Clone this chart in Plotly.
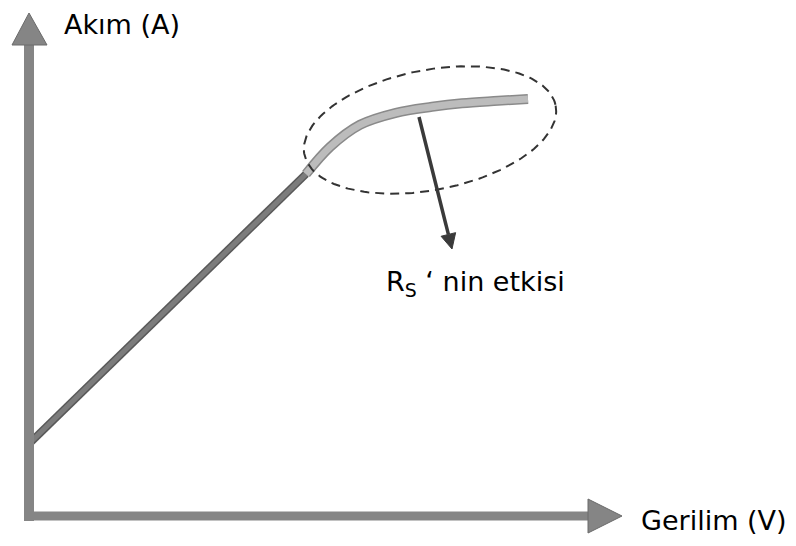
import numpy as np
import plotly.graph_objects as go

# ---- data (conceptual units: Gerilim V, Akım I) ----
lin_v = [0.0, 4.6]
lin_i = [1.22, 5.7]
curve_v = [4.6, 5.0, 5.5, 6.1, 6.7, 7.2, 7.8, 8.3]
curve_i = [5.7, 6.15, 6.52, 6.72, 6.82, 6.88, 6.92, 6.95]
x_label = "Gerilim (V)"
y_label = "Akım (A)"
note_label = "R<sub>S</sub> ‘ nin etkisi"

# page is 796x546 and the browser body has an 8px margin
PAGE_W, PAGE_H, PAD = 796, 546, 8
W, H = PAGE_W - 2 * PAD, PAGE_H - 2 * PAD
OX, OY, S = 30, 516, 60.0  # origin (page pixels) and px per unit


def vx(px):
    return (px - OX) / S


def vy(py):
    return (OY - py) / S


fig = go.Figure()

# linear part
fig.add_trace(go.Scatter(x=lin_v, y=lin_i, mode="lines",
                         line=dict(color="#595959", width=8), hoverinfo="skip"))
fig.add_trace(go.Scatter(x=lin_v, y=lin_i, mode="lines",
                         line=dict(color="#7c7c7c", width=5), hoverinfo="skip"))
# curved part (series resistance effect)
fig.add_trace(go.Scatter(x=curve_v, y=curve_i, mode="lines", line_shape="spline",
                         line=dict(color="#8a8a8a", width=10), hoverinfo="skip"))
fig.add_trace(go.Scatter(x=curve_v, y=curve_i, mode="lines", line_shape="spline",
                         line=dict(color="#bcbcbc", width=7), hoverinfo="skip"))

# dashed tilted ellipse
t = np.linspace(0, 2 * np.pi, 200)
cx, cy, a, b, ang = 430, 130, 128, 60, np.deg2rad(-11)
ex = cx + a * np.cos(t) * np.cos(ang) - b * np.sin(t) * np.sin(ang)
ey = cy + a * np.cos(t) * np.sin(ang) + b * np.sin(t) * np.cos(ang)
fig.add_trace(go.Scatter(x=vx(ex), y=vy(ey), mode="lines",
                         line=dict(color="#333333", width=2, dash="9px,6px"),
                         hoverinfo="skip"))

# axes as arrows
axis_col = "#858585"
edge_col = "#6a6a6a"
fig.add_shape(type="line", x0=vx(29), y0=vy(521), x1=vx(29), y1=vy(44),
              line=dict(color=axis_col, width=10))
fig.add_shape(type="line", x0=vx(24), y0=vy(516), x1=vx(590), y1=vy(516),
              line=dict(color=axis_col, width=9))
fig.add_shape(type="path",
              path=f"M {vx(12)},{vy(45)} L {vx(47)},{vy(45)} L {vx(29)},{vy(13)} Z",
              fillcolor=axis_col, line=dict(color=edge_col, width=1))
fig.add_shape(type="path",
              path=f"M {vx(588)},{vy(499)} L {vx(588)},{vy(533)} L {vx(622)},{vy(516)} Z",
              fillcolor=axis_col, line=dict(color=edge_col, width=1))

# pointer arrow (line + head)
tail = np.array([419.0, 117.0])
tip = np.array([452.0, 249.0])
u = (tip - tail) / np.linalg.norm(tip - tail)
n = np.array([u[1], -u[0]])
base = tip - 15 * u
c1, c2 = base + 7.5 * n, base - 7.5 * n
arrow_col = "#3a3a3a"
fig.add_shape(type="line", x0=vx(tail[0]), y0=vy(tail[1]),
              x1=vx(base[0]), y1=vy(base[1]),
              line=dict(color=arrow_col, width=3.5))
fig.add_shape(type="path",
              path=(f"M {vx(c1[0])},{vy(c1[1])} L {vx(c2[0])},{vy(c2[1])} "
                    f"L {vx(tip[0])},{vy(tip[1])} Z"),
              fillcolor=arrow_col, line=dict(color=arrow_col, width=1))

font = dict(family="DejaVu Sans", size=27, color="#000000")
fig.add_annotation(x=vx(63), y=vy(PAD), text=y_label, showarrow=False,
                   xanchor="left", yanchor="top", borderpad=0, font=font)
fig.add_annotation(x=vx(PAD + W), y=vy(520), text=x_label, showarrow=False,
                   xanchor="right", yanchor="middle", borderpad=0, font=font)
fig.add_annotation(x=vx(384), y=vy(283), text=note_label, showarrow=False,
                   xanchor="left", yanchor="middle", font=font)

fig.update_layout(
    width=W, height=H, margin=dict(l=0, r=0, t=0, b=0),
    paper_bgcolor="white", plot_bgcolor="white", showlegend=False,
    xaxis=dict(range=[vx(PAD), vx(PAD + W)], visible=False, fixedrange=True),
    yaxis=dict(range=[vy(PAD + H), vy(PAD)], visible=False, fixedrange=True),
)
fig.write_html("out.html")
